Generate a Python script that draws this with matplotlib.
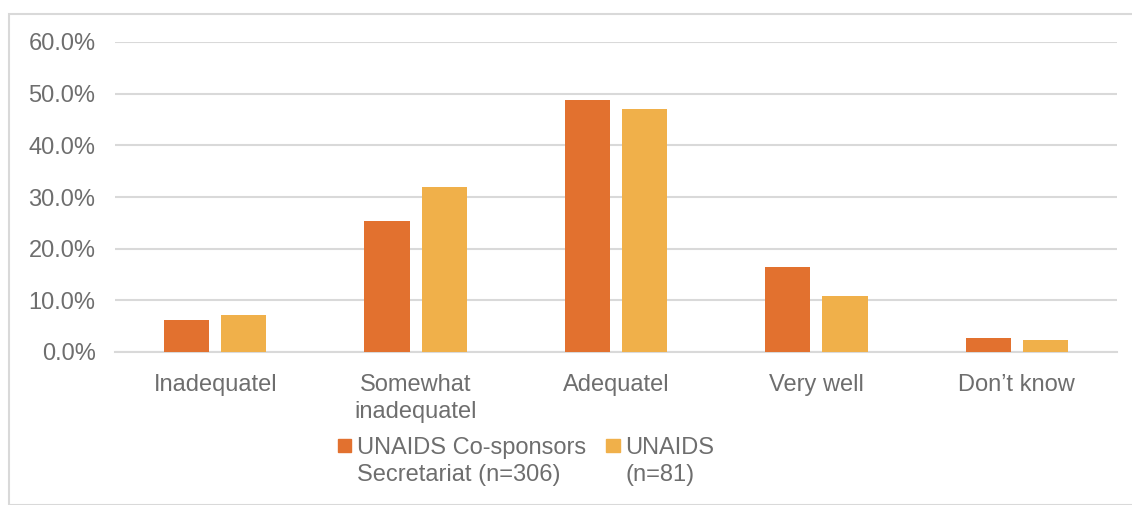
import numpy as np
import matplotlib.pyplot as plt
from matplotlib.patches import Rectangle
from matplotlib.legend_handler import HandlerPatch
from matplotlib.ticker import PercentFormatter

plt.rcParams["font.family"] = ["Liberation Sans", "DejaVu Sans"]

# ========= DATA =========
categories = ["Inadequatel", "Somewhat\ninadequatel", "Adequatel", "Very well", "Don\u2019t know"]
cosponsors = [6.1, 25.4, 48.8, 16.5, 2.7]
secretariat = [7.2, 31.9, 47.0, 10.9, 2.3]
series_labels = ["UNAIDS Co-sponsors\nSecretariat (n=306)", "UNAIDS\n(n=81)"]
# ========================

ORANGE = "#E2712F"
LIGHT = "#F0B04A"
GRID = "#D9D9D9"
TEXT = "#6E6E6E"
FS = 17


def top_square(legend, orig_handle, xdescent, ydescent, width, height, fontsize):
    # square marker sitting next to the first line of a two-line label
    s = 0.56 * fontsize
    return Rectangle((-xdescent, -ydescent + height - s + 0.3 * fontsize), s, s)


fig = plt.figure(figsize=(11.32, 5.05), dpi=100)
ax = fig.add_axes([115 / 1132, 1 - 352 / 505, 1002 / 1132, 310 / 505])

# outer chart border
fig.patches.append(Rectangle((9 / 1132, 0), 1.2, 1 - 14 / 505, transform=fig.transFigure,
                             fill=False, edgecolor=GRID, linewidth=1.5))

x = np.arange(len(categories))
w = 0.225
gap = 0.06
ax.bar(x - (w + gap) / 2, cosponsors, w, color=ORANGE, zorder=3)
ax.bar(x + (w + gap) / 2, secretariat, w, color=LIGHT, zorder=3)

ax.set_xlim(-0.5, len(categories) - 0.5)
ax.set_ylim(0, 60)
ax.set_yticks(np.arange(0, 61, 10))
ax.yaxis.set_major_formatter(PercentFormatter(decimals=1))
ax.set_xticks(x)
ax.set_xticklabels(categories, linespacing=1.3)

ax.grid(axis="y", color=GRID, linewidth=1.5, zorder=0)
for s in ["top", "right", "left"]:
    ax.spines[s].set_visible(False)
ax.spines["bottom"].set_color(GRID)
ax.spines["bottom"].set_linewidth(1.5)
ax.tick_params(axis="both", length=0, labelsize=FS, colors=TEXT)
ax.tick_params(axis="y", pad=14)
ax.tick_params(axis="x", pad=16)

handles = [Rectangle((0, 0), 1, 1, color=ORANGE), Rectangle((0, 0), 1, 1, color=LIGHT)]
leg = fig.legend(handles, series_labels, loc="upper left",
                 bbox_to_anchor=(338 / 1132, 1 - 437 / 505), ncol=2,
                 frameon=False, fontsize=FS, handlelength=0.56, handleheight=1.75,
                 handletextpad=0.25, columnspacing=0.85, borderaxespad=0, borderpad=0,
                 handler_map={Rectangle: HandlerPatch(patch_func=top_square)})
for t in leg.get_texts():
    t.set_color(TEXT)
    t.set_linespacing(1.3)

fig.savefig("out.png", dpi=100)
